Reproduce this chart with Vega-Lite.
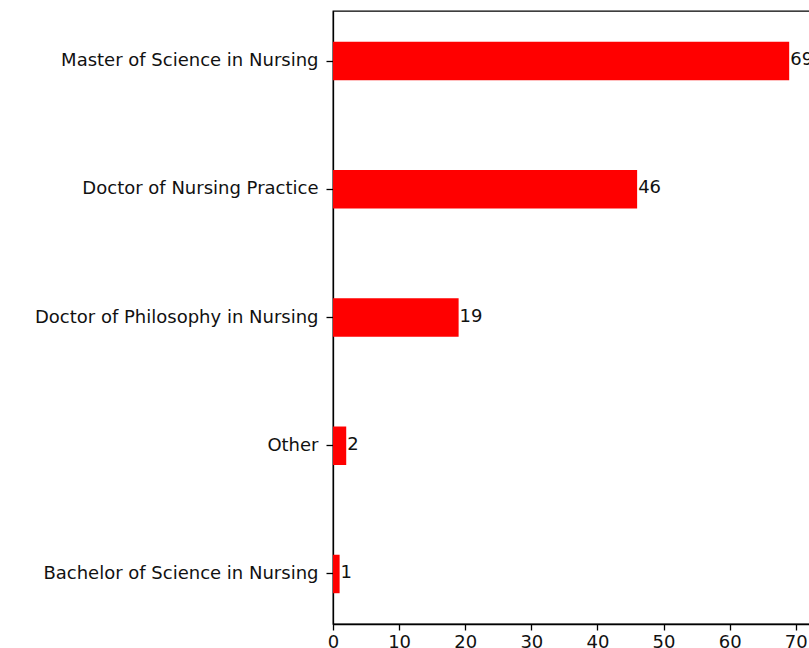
{
  "$schema": "https://vega.github.io/schema/vega-lite/v6.json",
  "autosize": {"type": "none"},
  "padding": {"left": 333, "top": 11, "right": 0, "bottom": 24},
  "width": 479,
  "height": 613,
  "background": "white",
  "config": {
    "font": "DejaVu Sans",
    "view": {"stroke": "#000", "strokeWidth": 1.3},
    "axis": {
      "labelFont": "DejaVu Sans",
      "labelFontSize": 18,
      "labelColor": "#111",
      "domainColor": "#000",
      "domainWidth": 1.3,
      "tickColor": "#000",
      "tickWidth": 1.3,
      "tickSize": 7,
      "labelPadding": 8,
      "grid": false,
      "title": null
    }
  },
  "data": {
    "values": [
      {"degree": "Master of Science in Nursing", "count": 69},
      {"degree": "Doctor of Nursing Practice", "count": 46},
      {"degree": "Doctor of Philosophy in Nursing", "count": 19},
      {"degree": "Other", "count": 2},
      {"degree": "Bachelor of Science in Nursing", "count": 1}
    ]
  },
  "encoding": {
    "y": {
      "field": "degree",
      "type": "nominal",
      "sort": ["Master of Science in Nursing", "Doctor of Nursing Practice", "Doctor of Philosophy in Nursing", "Other", "Bachelor of Science in Nursing"],
      "scale": {"paddingInner": 0.7, "paddingOuter": 0.24},
      "axis": {"labelLimit": 400}
    },
    "x": {
      "field": "count",
      "type": "quantitative",
      "scale": {"domain": [0, 72.45], "nice": false, "zero": true},
      "axis": {"values": [0, 10, 20, 30, 40, 50, 60, 70], "labelFlush": false, "labelPadding": 3, "tickSize": 6}
    }
  },
  "layer": [
    {"mark": {"type": "bar", "color": "#ff0000"}},
    {
      "mark": {"type": "text", "align": "left", "baseline": "middle", "dx": 1, "dy": -1, "fontSize": 18, "color": "#111"},
      "encoding": {"text": {"field": "count", "type": "quantitative"}}
    }
  ]
}
